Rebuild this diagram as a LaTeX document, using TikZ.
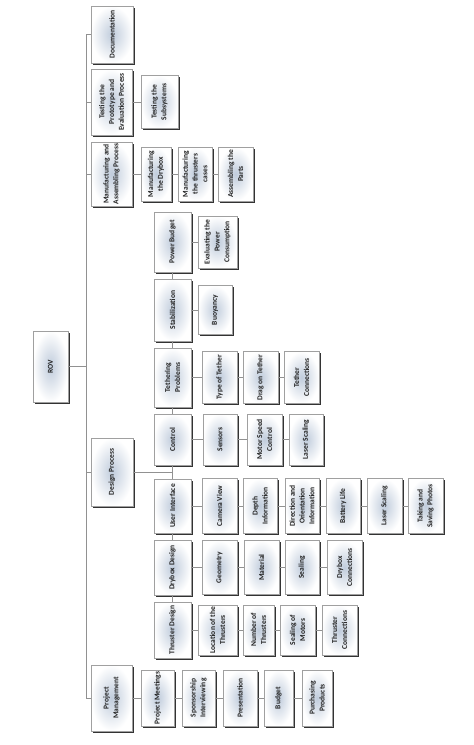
\documentclass[tikz,border=0pt]{standalone}
\usepackage{fontspec}
\setmainfont{Carlito}
\usetikzlibrary{shadows}
\definecolor{boxin}{RGB}{192,204,220}
\definecolor{boxline}{RGB}{160,160,160}
\definecolor{linkgray}{RGB}{145,145,145}
\definecolor{textgray}{RGB}{35,35,35}

\begin{document}
\begin{tikzpicture}[x=1pt, y=-1pt,
      box/.style 2 args={rotate=90, draw=boxline, line width=0.4pt,
        inner color=boxin, outer color=white,
        drop shadow={shadow xshift=1.8pt, shadow yshift=-1.8pt, fill=black!80, opacity=1},
        minimum height=#1pt, minimum width=#2pt, inner sep=1pt, align=center,
        font=\fontsize{7.5}{9.8}\selectfont\bfseries, text=textgray},
      link/.style={draw=linkgray, line width=0.8pt}]

    \useasboundingbox (0,0) rectangle (474,745);

    % 1. Raiz e primeiro nível
    \node[box={35}{71}] (rov) at (50.5,366.5) {ROV};
    \node[box={42}{57}] (doc) at (112,34.5) {Documentation};
    \node[box={41}{66}] (test) at (111.5,102) {Testing the\\Prototype and\\Evaluation Process};
    \node[box={41}{64}] (manu) at (111.5,174) {Manufacturing and\\Assembling Process};
    \node[box={42}{68}] (design) at (112,472) {Design Process};
    \node[box={41}{66}] (pm) at (111.5,698) {Project\\Management};

    % 2. Testes e fabricação
    \node[box={37}{53}] (testsub) at (159.5,102) {Testing the\\Subsystems};
    \node[box={30}{54}] (manudry) at (156,174) {Manufacturing\\the Drybox};
    \node[box={34}{54}] (manuthr) at (195,174) {Manufacturing\\the thrusters\\cases};
    \node[box={35}{54}] (assem) at (235.5,174) {Assembling the\\Parts};

    % 3. Projeto
    \node[box={37}{60}] (power) at (172.5,242) {Power Budget};
    \node[box={39}{52}] (evalpow) at (217.5,242) {Evaluating the\\Power\\Consumption};
    \node[box={37}{62}] (stab) at (172.5,310) {Stabilization};
    \node[box={34}{49}] (buoy) at (215,310) {Buoyancy};
    \node[box={37}{59}] (tether) at (172.5,377.5) {Tethering\\Problems};
    \node[box={35}{52}] (ttype) at (219.5,377.5) {Type of Tether};
    \node[box={35}{52}] (tdrag) at (260.5,377.5) {Drag on Tether};
    \node[box={35}{52}] (tconn) at (301.5,377.5) {Tether\\Connections};
    \node[box={37}{51}] (control) at (172.5,439.5) {Control};
    \node[box={34}{51}] (sensors) at (220,439.5) {Sensors};
    \node[box={35}{51}] (motor) at (264.5,439.5) {Motor Speed\\Control};
    \node[box={34}{51}] (laserA) at (306,439.5) {Laser Scaling};
    \node[box={37}{54}] (ui) at (172.5,506) {User Interface};
    \node[box={35}{55}] (camera) at (219.5,506) {Camera View};
    \node[box={34}{55}] (depth) at (260,506) {Depth\\Information};
    \node[box={34}{55}] (direct) at (302,506) {Direction and\\Orientation\\Information};
    \node[box={34}{55}] (battery) at (343,506) {Battery Life};
    \node[box={35}{55}] (laserB) at (384.5,506) {Laser Scaling};
    \node[box={35}{55}] (photos) at (425.5,506) {Taking and\\Saving Photos};
    \node[box={37}{55}] (dry) at (172.5,567.5) {Drybox Design};
    \node[box={35}{54}] (geom) at (219.5,567.5) {Geometry};
    \node[box={35}{54}] (mater) at (261.5,567.5) {Material};
    \node[box={34}{54}] (seal) at (302,567.5) {Sealing};
    \node[box={35}{54}] (dryconn) at (344.5,567.5) {Drybox\\Connections};
    \node[box={37}{56}] (thr) at (172.5,630) {Thruster Design};
    \node[box={39}{50}] (tloc) at (217.5,630) {Location of the\\Thrusters};
    \node[box={31}{50}] (tnum) at (258.5,630) {Number of\\Thrusters};
    \node[box={35}{50}] (tseal) at (297.5,630) {Sealing of\\Motors};
    \node[box={35}{50}] (tconnB) at (339.5,630) {Thruster\\Connections};

    % 4. Gestão
    \node[box={33}{56}] (pmeet) at (157.5,698) {Project Meetings};
    \node[box={33}{56}] (spons) at (198.5,698) {Sponsorship\\Interviewing};
    \node[box={34}{56}] (pres) at (240,698) {Presentation};
    \node[box={29}{56}] (budget) at (278.5,698) {Budget};
    \node[box={30}{56}] (purch) at (317,698) {Purchasing\\Products};

    % ligações
    \coordinate (tr) at (86,0);
    \draw[link] (rov) -- (rov -| tr);
    \draw[link] (doc -| tr) -- (pm -| tr);
    \foreach \n in {doc,test,manu,design,pm}
      \draw[link] (\n -| tr) -- (\n);
    \draw[link] (design) -- (design -| power);
    \foreach \a/\b in {power/stab, stab/tether, tether/control, control/ui, ui/dry, dry/thr}
      \draw[link] (\a) -- (\b);
    \foreach \a/\b in {test/testsub, manu/manudry, manudry/manuthr, manuthr/assem,
        power/evalpow, stab/buoy, tether/ttype, ttype/tdrag, tdrag/tconn,
        control/sensors, sensors/motor, motor/laserA,
        ui/camera, camera/depth, depth/direct, direct/battery, battery/laserB, laserB/photos,
        dry/geom, geom/mater, mater/seal, seal/dryconn,
        thr/tloc, tloc/tnum, tnum/tseal, tseal/tconnB,
        pm/pmeet, pmeet/spons, spons/pres, pres/budget, budget/purch}
      \draw[link] (\a) -- (\b);

\end{tikzpicture}
\end{document}
